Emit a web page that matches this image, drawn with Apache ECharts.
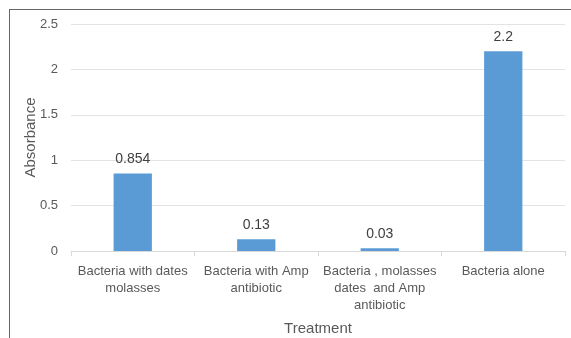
<!DOCTYPE html>
<html>
<head>
<meta charset="utf-8">
<script src="https://cdn.jsdelivr.net/npm/echarts@6/dist/echarts.min.js"></script>
<style>
  html, body { margin: 0; padding: 0; background: #fff; }
  #frame { position: absolute; left: 9px; top: 9px; width: 562px; height: 329px;
           border-left: 1.5px solid #666; border-top: 1.5px solid #666; box-sizing: border-box; }
  #chart { position: absolute; left: 0; top: 0; width: 571px; height: 338px; }
</style>
</head>
<body>
<div id="frame"></div>
<div id="chart"></div>
<script>
// Treatments and their measured absorbance
const categories = [
  'Bacteria with dates\nmolasses',
  'Bacteria with Amp\nantibiotic',
  'Bacteria , molasses\ndates  and Amp\nantibiotic',
  'Bacteria alone'
];
const absorbance = [0.854, 0.13, 0.03, 2.2];
const labelText = ['0.854', '0.13', '0.03', '2.2'];

const font = 'Liberation Sans, Arial, sans-serif';
const chart = echarts.init(document.getElementById('chart'), null, { renderer: 'canvas' });
chart.setOption({
  animation: false,
  grid: { left: 71, right: 6, top: 24, bottom: 87, containLabel: false, outerBoundsMode: 'none' },
  xAxis: {
    type: 'category',
    data: categories,
    name: 'Treatment',
    nameLocation: 'middle',
    nameGap: 70,
    nameMoveOverlap: false,
    nameTextStyle: { fontFamily: font, fontSize: 15, color: '#595959' },
    axisLine: { lineStyle: { color: '#d9d9d9' } },
    axisTick: { show: true, length: 5, lineStyle: { color: '#d9d9d9' } },
    axisLabel: { fontFamily: font, fontSize: 13, color: '#595959', margin: 12, lineHeight: 17, interval: 0 }
  },
  yAxis: {
    type: 'value',
    min: 0, max: 2.5, interval: 0.5,
    name: 'Absorbance',
    nameLocation: 'middle',
    nameGap: 33,
    nameMoveOverlap: false,
    nameTextStyle: { fontFamily: font, fontSize: 15, color: '#595959' },
    axisLine: { show: false },
    axisTick: { show: false },
    axisLabel: { fontFamily: font, fontSize: 13, color: '#595959', margin: 13,
                 formatter: v => String(v) },
    splitLine: { lineStyle: { color: '#e3e3e3' } }
  },
  series: [{
    type: 'bar',
    data: absorbance,
    barWidth: '31%',
    itemStyle: { color: '#5b9bd5' },
    label: {
      show: true, position: 'top', distance: 7,
      fontFamily: font, fontSize: 14, color: '#404040',
      formatter: p => labelText[p.dataIndex]
    }
  }]
});
</script>
</body>
</html>
